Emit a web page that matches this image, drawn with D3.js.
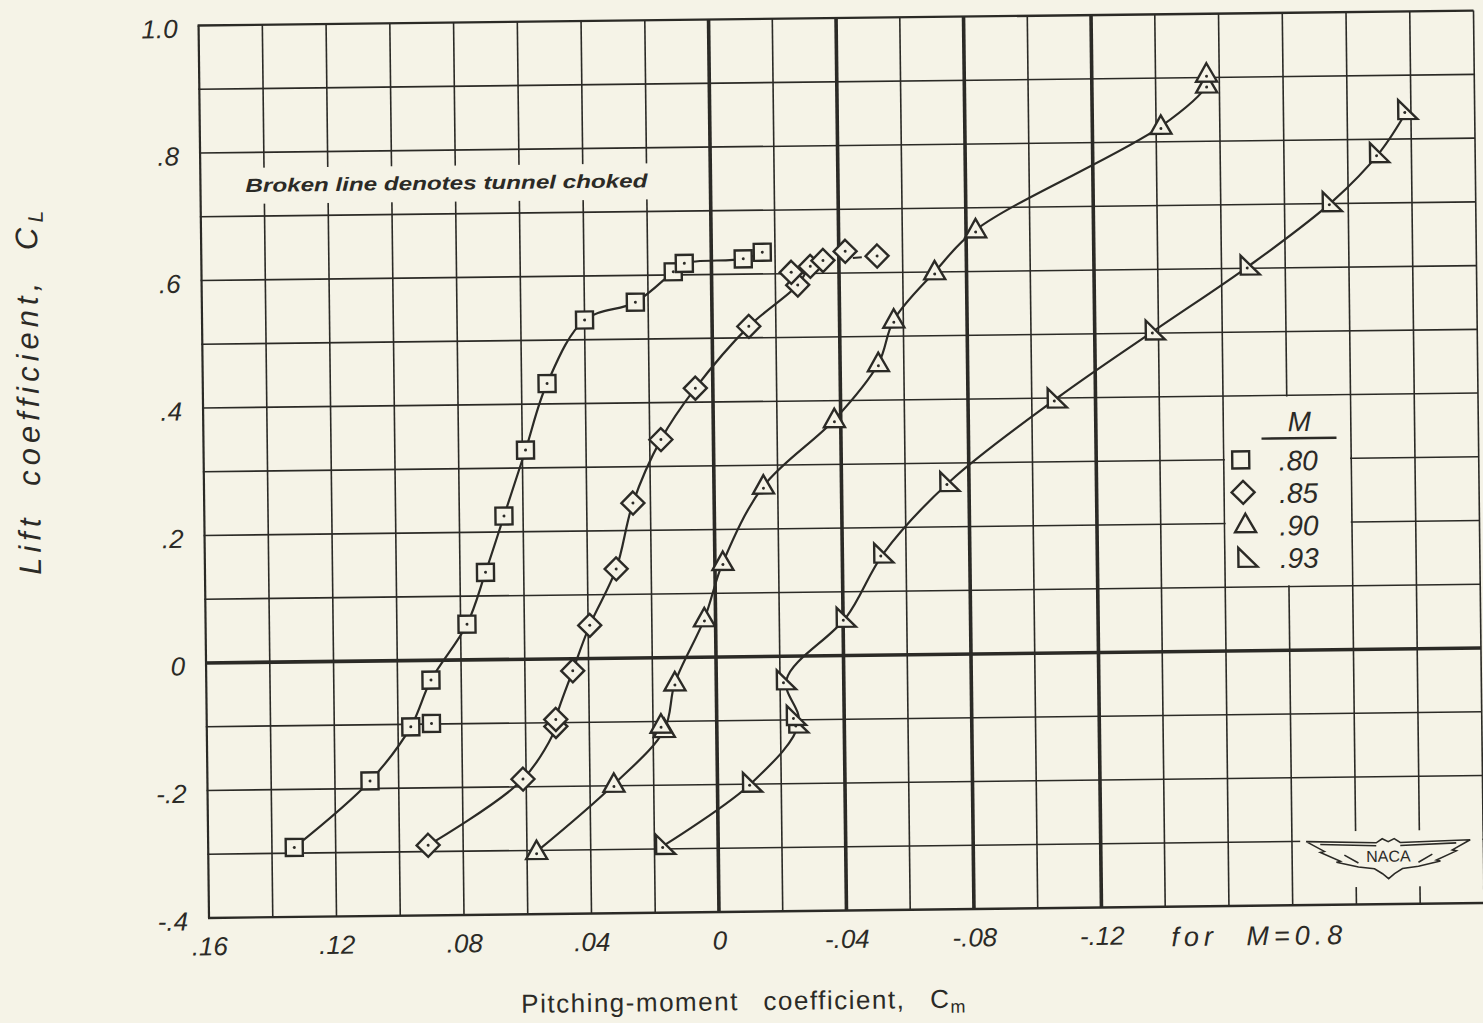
<!DOCTYPE html>
<html>
<head>
<meta charset="utf-8">
<script src="https://cdn.jsdelivr.net/npm/d3@7"></script>
<style>
  body { margin: 0; background: #f5f3e7; }
  svg { display: block; }
</style>
</head>
<body>
<div id="chart-area"></div>
<script>
// Lift coefficient vs pitching-moment coefficient, four Mach numbers

const machLabels = ['.80', '.85', '.90', '.93'];
const shapes = ['square', 'diamond', 'triangle', 'right'];

// [Cm, CL] (Cm scale as labelled, "for M=0.8")
const m80 = [
  [0.133, -0.291], [0.109, -0.188], [0.096, -0.104], [0.0895, -0.099],
  [0.0895, -0.031], [0.078, 0.056], [0.072, 0.137], [0.066, 0.225],
  [0.059, 0.328], [0.052, 0.432], [0.040, 0.531], [0.024, 0.558],
  [0.012, 0.605], [0.0085, 0.618], [-0.010, 0.624], [-0.016, 0.634]
];
const m85 = [
  [0.091, -0.290], [0.061, -0.188], [0.0505, -0.106], [0.0505, -0.095],
  [0.045, -0.019], [0.0395, 0.052], [0.031, 0.140], [0.0255, 0.243],
  [0.0165, 0.342], [0.0055, 0.422], [-0.0115, 0.518], [-0.027, 0.582],
  [-0.025, 0.602], [-0.031, 0.611], [-0.035, 0.620], [-0.042, 0.634],
  [-0.052, 0.626]
];
const m90 = [
  [0.057, -0.302], [0.0325, -0.198], [0.0165, -0.113], [0.0175, -0.106],
  [0.013, -0.040], [0.0035, 0.060], [-0.0025, 0.148], [-0.0155, 0.267],
  [-0.038, 0.370], [-0.052, 0.457], [-0.057, 0.525], [-0.070, 0.600],
  [-0.083, 0.665], [-0.1415, 0.824], [-0.156, 0.888], [-0.156, 0.905]
];
const m93 = [
  [0.0165, -0.293], [-0.011, -0.197], [-0.0257, -0.105], [-0.025, -0.093],
  [-0.022, -0.037], [-0.041, 0.060], [-0.053, 0.160], [-0.074, 0.271],
  [-0.108, 0.400], [-0.139, 0.505], [-0.169, 0.605], [-0.195, 0.703],
  [-0.210, 0.779], [-0.219, 0.846]
];
const series = [m80, m85, m90, m93];

// points the faired curve does not pass through
const offCurve = [[3], [12], [3], [3]];
// M=.85: tunnel choked beyond this point (broken line)
const choked85 = 14;

const xTicks = [0.16, 0.12, 0.08, 0.04, 0, -0.04, -0.08, -0.12];
const xTickLabels = ['.16', '.12', '.08', '.04', '0', '-.04', '-.08', '-.12'];
const yTicks = [1.0, 0.8, 0.6, 0.4, 0.2, 0, -0.2, -0.4];
const yTickLabels = ['1.0', '.8', '.6', '.4', '.2', '0', '-.2', '-.4'];
const heavyX = [0, -0.04, -0.08, -0.12];

const ink = '#2b2a26';
const paper = '#f5f3e7';
const font = "'Liberation Sans', Arial, sans-serif";

const x = d3.scaleLinear().domain([0.16, -0.24]).range([206, 1481]);
const y = d3.scaleLinear().domain([-0.4, 1.0]).range([917.5, 25]);

const svg = d3.select('#chart-area').append('svg')
  .attr('width', 1483)
  .attr('height', 1023);

svg.append('rect')
  .attr('width', 1483)
  .attr('height', 1023)
  .attr('fill', paper);

// the sheet sits slightly skewed on the scan
const chart = svg.append('g')
  .attr('transform', 'translate(0, -5.5) rotate(-0.67, 716, 662.5)');

// grid
const grid = chart.append('g');
const near = (a, b) => Math.abs(a - b) < 1e-9;
const isHeavy = d => heavyX.some(h => near(h, d));

grid.selectAll('.vline').data(x.ticks(20))
  .enter().append('line')
  .attr('x1', d => x(d)).attr('x2', d => x(d))
  .attr('y1', y(1.0)).attr('y2', y(-0.4))
  .attr('stroke', ink)
  .attr('stroke-width', d => isHeavy(d) ? 3.6 : (near(d, 0.16) ? 2.2 : 1.6));

grid.selectAll('.hline').data(y.ticks(14))
  .enter().append('line')
  .attr('x1', x(0.16) - 1).attr('x2', x(-0.24))
  .attr('y1', d => y(d)).attr('y2', d => y(d))
  .attr('stroke', ink)
  .attr('stroke-width', d => near(d, 0) ? 3.6 : ((near(d, 1) || near(d, -0.4)) ? 2.4 : 1.6));

// blank patches behind the note, the key and the emblem
const patches = [
  { x: 243, y: 168, w: 422, h: 36 },
  { x: x(-0.16) + 1.2, y: y(0.4) + 1.2, w: x(-0.20) - x(-0.16) - 2.4, h: y(0.1) - y(0.4) - 2.4 },
  { x: 1298, y: 844, w: 182, h: 56 }
];
chart.append('g').selectAll('rect').data(patches)
  .enter().append('rect')
  .attr('x', d => d.x).attr('y', d => d.y)
  .attr('width', d => d.w).attr('height', d => d.h)
  .attr('fill', paper);

// axes labels
const yAxis = d3.axisLeft(y)
  .tickValues(yTicks)
  .tickFormat((d, i) => yTickLabels[i])
  .tickSize(0)
  .tickPadding(21);
const yAxisGroup = chart.append('g')
  .attr('transform', `translate(${x(0.16)}, 0)`)
  .call(yAxis);
yAxisGroup.select('.domain').remove();
yAxisGroup.selectAll('text')
  .attr('dy', '0.45em')
  .attr('font-family', font)
  .attr('font-style', 'italic')
  .attr('font-size', '26px')
  .attr('fill', ink);

const xAxis = d3.axisBottom(x)
  .tickValues(xTicks)
  .tickFormat((d, i) => xTickLabels[i])
  .tickSize(0)
  .tickPadding(19);
const xAxisGroup = chart.append('g')
  .attr('transform', `translate(0, ${y(-0.4)})`)
  .call(xAxis);
xAxisGroup.select('.domain').remove();
xAxisGroup.selectAll('text')
  .attr('font-family', font)
  .attr('font-style', 'italic')
  .attr('font-size', '26px')
  .attr('fill', ink);

chart.append('text')
  .attr('x', 1168)
  .attr('y', 957)
  .attr('font-family', font)
  .attr('font-style', 'italic')
  .attr('font-size', '27px')
  .attr('letter-spacing', '5px')
  .attr('word-spacing', '16px')
  .attr('fill', ink)
  .text('for M=0.8');

// axis titles
const xTitle = chart.append('text')
  .attr('x', 740)
  .attr('y', 1016)
  .attr('text-anchor', 'middle')
  .attr('font-family', font)
  .attr('font-size', '26px')
  .attr('letter-spacing', '1.5px')
  .attr('word-spacing', '16px')
  .attr('fill', ink);
xTitle.append('tspan').text('Pitching-moment coefficient, C');
xTitle.append('tspan').attr('font-size', '18px').attr('dy', 5).text('m');

const yTitle = chart.append('text')
  .attr('transform', 'translate(42, 388) rotate(-90)')
  .attr('text-anchor', 'middle')
  .attr('font-family', font)
  .attr('font-style', 'italic')
  .attr('font-size', '31px')
  .attr('letter-spacing', '5px')
  .attr('word-spacing', '14px')
  .attr('fill', ink);
yTitle.append('tspan').text('Lift coefficient, C');
yTitle.append('tspan').attr('font-size', '21px').attr('dy', 6).text('L');

// note
chart.append('text')
  .attr('x', 251)
  .attr('y', 192)
  .attr('font-family', font)
  .attr('font-style', 'italic')
  .attr('font-weight', 'bold')
  .attr('font-size', '19px')
  .attr('textLength', 402)
  .attr('lengthAdjust', 'spacingAndGlyphs')
  .attr('fill', ink)
  .text('Broken line denotes tunnel choked');

// curves
const line = d3.line()
  .x(d => x(d[0]))
  .y(d => y(d[1]))
  .curve(d3.curveCatmullRom.alpha(0.5));

const curves = chart.append('g')
  .attr('fill', 'none')
  .attr('stroke', ink)
  .attr('stroke-width', 2.2);

series.forEach((pts, s) => {
  const upTo = s === 1 ? choked85 + 1 : pts.length;
  const faired = pts.slice(0, upTo).filter((p, i) => !offCurve[s].includes(i));
  curves.append('path').attr('d', line(faired));
});
curves.append('path')
  .attr('d', line([m85[choked85], m85[m85.length - 1]]))
  .attr('stroke-dasharray', '9,6');

// markers
const markerPath = (shape, s) => {
  const h = s / 2;
  switch (shape) {
    case 'square':
      return `M${-h},${-h}H${h}V${h}H${-h}Z`;
    case 'diamond':
      return `M0,${-h}L${h},0L0,${h}L${-h},0Z`;
    case 'triangle':
      return `M0,${-h * 1.05}L${h},${h * 0.7}L${-h},${h * 0.7}Z`;
    default:
      return `M${-h},${-h}L${h},${h}L${-h},${h}Z`;
  }
};
const markerSize = { square: 17, diamond: 23, triangle: 21, right: 19 };

series.forEach((pts, s) => {
  const g = chart.append('g');
  const pt = g.selectAll('g').data(pts)
    .enter().append('g')
    .attr('transform', d => `translate(${x(d[0])}, ${y(d[1])})`);
  pt.append('path')
    .attr('d', markerPath(shapes[s], markerSize[shapes[s]]))
    .attr('fill', paper)
    .attr('stroke', ink)
    .attr('stroke-width', 2.4);
  pt.append('circle')
    .attr('cy', shapes[s] === 'right' ? 3 : (shapes[s] === 'triangle' ? 2 : 0))
    .attr('cx', shapes[s] === 'right' ? -3 : 0)
    .attr('r', 1.5)
    .attr('fill', ink);
});

// key
const legend = chart.append('g')
  .attr('transform', `translate(${x(-0.16)}, ${y(0.4)})`);

legend.append('text')
  .attr('x', 76)
  .attr('y', 36)
  .attr('text-anchor', 'middle')
  .attr('font-family', font)
  .attr('font-style', 'italic')
  .attr('font-size', '28px')
  .attr('fill', ink)
  .text('M');
legend.append('line')
  .attr('x1', 38).attr('x2', 113)
  .attr('y1', 43).attr('y2', 43)
  .attr('stroke', ink)
  .attr('stroke-width', 2.4);

machLabels.forEach((el, i) => {
  const row = legend.append('g')
    .attr('transform', `translate(0, ${64 + i * 32.5})`);
  row.append('path')
    .attr('transform', `translate(${17 + i * 2}, 0)`)
    .attr('d', markerPath(shapes[i], markerSize[shapes[i]]))
    .attr('fill', 'none')
    .attr('stroke', ink)
    .attr('stroke-width', 2.4);
  row.append('text')
    .attr('x', 55)
    .attr('y', 11)
    .attr('font-family', font)
    .attr('font-style', 'italic')
    .attr('font-size', '28px')
    .attr('fill', ink)
    .text(el);
});

// NACA emblem
const logo = chart.append('g')
  .attr('transform', 'translate(1386, 856)')
  .attr('fill', 'none')
  .attr('stroke', ink)
  .attr('stroke-width', 1.6);
logo.append('path')
  .attr('d', 'M-82,-2 L-12,0 L-6,-4 L0,-1 L6,-4 L12,0 L82,-2 ' +
    'L64,8 L68,9 L48,18 L52,19 L30,24 L14,26 L6,31 L0,36 L-6,31 L-14,26 L-30,24 ' +
    'L-52,19 L-48,18 L-68,9 L-64,8 Z');
logo.append('path')
  .attr('d', 'M-68,1 L-12,3 M12,3 L68,1 M-44,12 L-30,20 M44,12 L30,20');
logo.append('text')
  .attr('x', 0)
  .attr('y', 19)
  .attr('text-anchor', 'middle')
  .attr('font-family', font)
  .attr('font-size', '16px')
  .attr('stroke', 'none')
  .attr('fill', ink)
  .text('NACA');
</script>
</body>
</html>
